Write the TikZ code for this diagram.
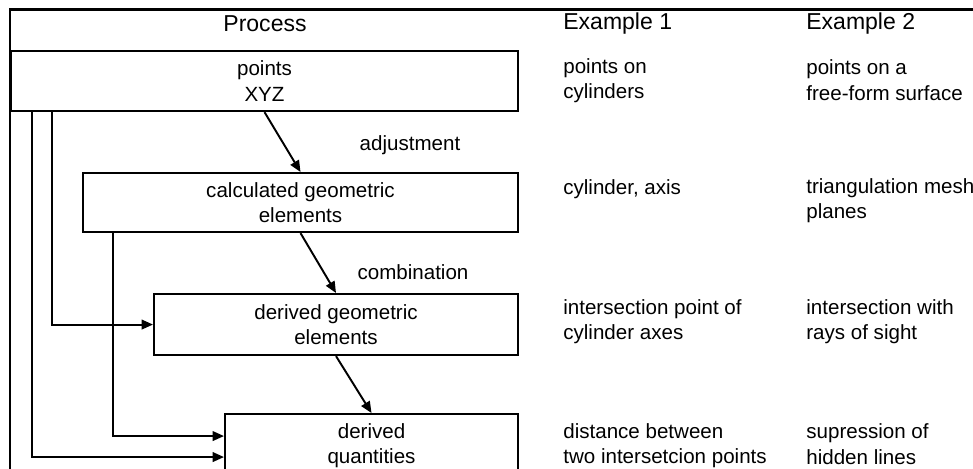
\documentclass[tikz,border=0pt]{standalone}
\usepackage{fontspec}
\setmainfont{Liberation Sans}
\usetikzlibrary{positioning,arrows.meta,calc}

\begin{document}
\begin{tikzpicture}[x=0.02cm, y=-0.02cm,
        procbox/.style={rectangle, draw=black, line width=1.2pt, anchor=north west, align=center, inner sep=0pt, font=\fontsize{11.7}{14.4}\selectfont},
        extext/.style={anchor=west, align=left, inner sep=0pt, font=\fontsize{11.7}{14.4}\selectfont},
        head/.style={inner sep=0pt, font=\fontsize{13.1}{15.7}\selectfont},
        steplabel/.style={inner sep=0pt, font=\fontsize{11.7}{14.4}\selectfont},
        arrow/.style={draw=black, line width=1.1pt, -{Triangle[length=6.5pt,width=5.5pt]}},
        frame/.style={draw=black, line width=1.7pt}
    ]
        \useasboundingbox (0,0) rectangle (973,468);
        \clip (0,0) rectangle (973,468);

        % outer frame (cut off at the right and at the bottom)
        \draw [frame] (10,520) -- (10,9) -- (1000,9);

        % Process column
        \node [procbox, minimum width=10.14cm, minimum height=1.2cm] (p_points) at (10,50) {points\\ XYZ};
        \node [procbox, minimum width=8.7cm, minimum height=1.18cm] (p_calc) at (82,172) {calculated geometric\\ elements};
        \node [procbox, minimum width=7.28cm, minimum height=1.22cm] (p_derived) at (153,293) {derived geometric\\ elements};
        \node [procbox, minimum width=5.86cm, minimum height=1.26cm] (p_quant) at (224,413) {derived\\ quantities};

        \draw [arrow] (p_points.south) -- (p_calc.north);
        \draw [arrow] (p_calc.south) -- (p_derived.north);
        \draw [arrow] (p_derived.south) -- (p_quant.north);

        \node [steplabel] (l_adjust) at (410,145) {adjustment};
        \node [steplabel] (l_combine) at (413,272) {combination};

        % side connections
        \draw [arrow] ($(p_points.south west)+(22,0)$) |- ([yshift=-0.23cm]p_quant.west);
        \draw [arrow] ($(p_points.south west)+(42,0)$) |- (p_derived.west);
        \draw [arrow] ($(p_calc.south west)+(31,0)$) |- ([yshift=0.19cm]p_quant.west);

        % Example 1
        \node [extext] (e1_points) at (563,81) {points on\\ cylinders};
        \node [extext] (e1_calc) at (563,189) {cylinder, axis};
        \node [extext] (e1_derived) at (563,322) {intersection point of\\ cylinder axes};
        \node [extext] (e1_quant) at (563,446) {distance between\\ two intersetcion points};

        % Example 2
        \node [extext] (e2_points) at (806,80) {points on a\\ free-form surface};
        \node [extext] (e2_calc) at (806,201) {triangulation mesh\\ planes};
        \node [extext] (e2_derived) at (806,322) {intersection with\\ rays of sight};
        \node [extext] (e2_quant) at (806,444) {supression of\\ hidden lines};

        % column heads
        \node [head] (h_process) at (265,24) {Process};
        \node [head, anchor=west] (h_ex1) at (563,24) {Example 1};
        \node [head, anchor=west] (h_ex2) at (806,24) {Example 2};
    \end{tikzpicture}
\end{document}
